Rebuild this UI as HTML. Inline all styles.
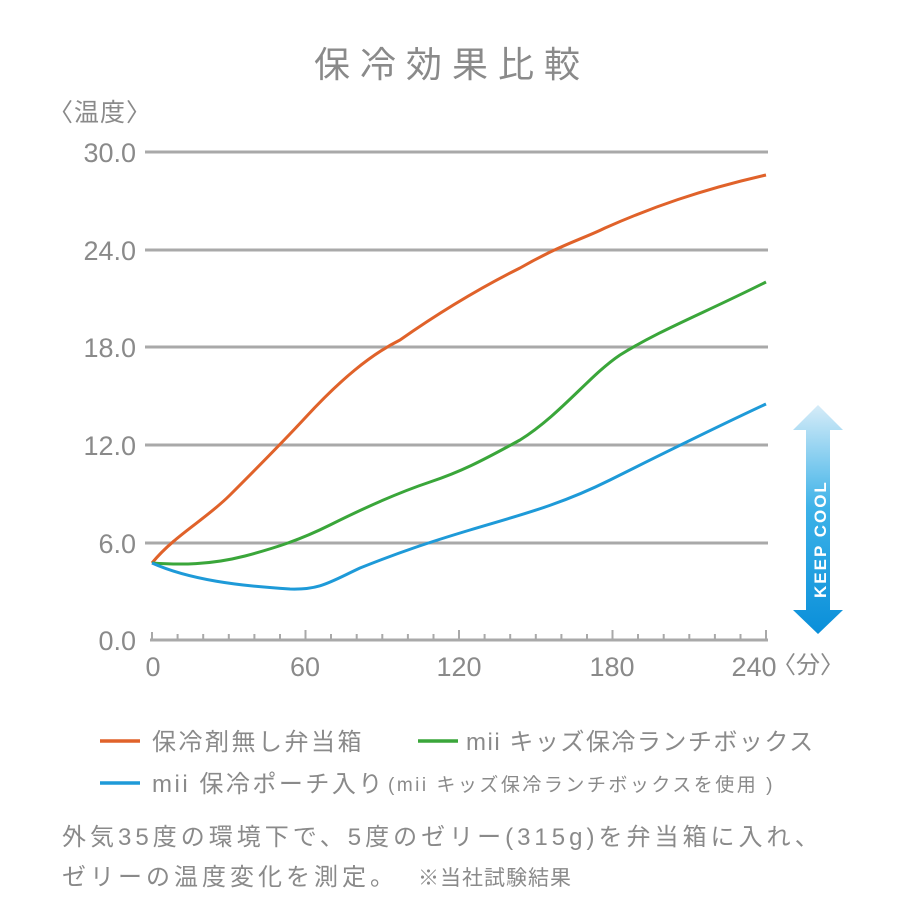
<!DOCTYPE html>
<html><head><meta charset="utf-8"><style>
html,body{margin:0;padding:0;background:#fff}
svg text{font-family:"Liberation Sans","Noto Sans CJK JP",sans-serif;fill:#8a8a8a}
</style></head><body>
<svg width="900" height="900" viewBox="0 0 900 900" xmlns="http://www.w3.org/2000/svg">
<defs>
<linearGradient id="g" x1="0" y1="0" x2="0" y2="1">
<stop offset="0" stop-color="#d6ecf8"/><stop offset="0.45" stop-color="#3db2e8"/><stop offset="1" stop-color="#0a8fd9"/>
</linearGradient>
</defs>
<text x="452" y="77" font-size="36" text-anchor="middle" letter-spacing="10">保冷効果比較</text>
<text x="48" y="121" font-size="25" letter-spacing="1">〈温度〉</text>
<g stroke="#a9a9a9" stroke-width="3">
<line x1="145" y1="152" x2="768" y2="152"/>
<line x1="145" y1="250" x2="768" y2="250"/>
<line x1="145" y1="347" x2="768" y2="347"/>
<line x1="145" y1="445" x2="768" y2="445"/>
<line x1="145" y1="543" x2="768" y2="543"/>
<line x1="150" y1="640" x2="768" y2="640"/>
</g>
<g stroke="#a9a9a9" stroke-width="2">
<path d="M152 640v-8M177.6 640v-6M203.2 640v-6M228.8 640v-6M254.4 640v-6M280 640v-6M305.5 640v-10M331 640v-6M356.7 640v-6M382.3 640v-6M407.9 640v-6M433.5 640v-6M459 640v-10M484.6 640v-6M510.2 640v-6M535.8 640v-6M561.4 640v-6M587 640v-6M612.5 640v-10M638 640v-6M663.7 640v-6M689.3 640v-6M714.9 640v-6M740.5 640v-6M766 640v-10"/>
</g>
<g font-size="27" text-anchor="end">
<text x="136" y="162">30.0</text><text x="136" y="260">24.0</text><text x="136" y="357">18.0</text>
<text x="136" y="455">12.0</text><text x="136" y="553">6.0</text><text x="136" y="650">0.0</text>
</g>
<g font-size="27" text-anchor="middle">
<text x="153" y="676">0</text><text x="305" y="676">60</text><text x="459" y="676">120</text><text x="612" y="676">180</text><text x="754" y="676">240</text>
</g>
<text x="772" y="673" font-size="24">〈分〉</text>
<path d="M152 563 C175 535,205 520,230 495 C260 465,280 445,305 418 C340 380,370 355,400 340 C450 305,490 283,520 268 C560 245,585 238,605 228 C650 208,700 190,766 175" fill="none" stroke="#e0622a" stroke-width="3"/>
<path d="M152 563 C180 565,210 565,245 556 C275 548,300 540,330 525 C370 505,400 492,430 482 C460 472,480 462,520 440 C560 415,590 375,620 355 C660 330,700 315,766 282" fill="none" stroke="#3aa63a" stroke-width="3"/>
<path d="M152 563 C190 580,240 586,290 589 C320 590,330 582,360 568 C400 552,430 542,470 530 C520 515,560 505,610 480 C660 455,710 430,766 404" fill="none" stroke="#1e9ad8" stroke-width="3"/>
<path d="M818 405 L843 430 L830 430 L830 610 L843 610 L818 634 L793 610 L806 610 L806 430 L793 430 Z" fill="url(#g)"/>
<text transform="translate(826,598) rotate(-90)" font-size="17" font-weight="bold" letter-spacing="2" style="fill:#fff">KEEP COOL</text>
<line x1="100" y1="741" x2="140" y2="741" stroke="#e0622a" stroke-width="3.5"/>
<text x="152" y="750" font-size="24" letter-spacing="2.5">保冷剤無し弁当箱</text>
<line x1="418" y1="741" x2="458" y2="741" stroke="#3aa63a" stroke-width="3.5"/>
<text x="466" y="750" font-size="24" letter-spacing="1.5">mii キッズ保冷ランチボックス</text>
<line x1="100" y1="783" x2="140" y2="783" stroke="#1e9ad8" stroke-width="3.5"/>
<text x="152" y="792" font-size="24" letter-spacing="2.5">mii 保冷ポーチ入り</text>
<text x="388" y="791" font-size="19" letter-spacing="2.5">(mii キッズ保冷ランチボックスを使用 )</text>
<text x="62" y="845" font-size="24" letter-spacing="4">外気35度の環境下で、5度のゼリー(315g)を弁当箱に入れ、</text>
<text x="62" y="885" font-size="24" letter-spacing="4">ゼリーの温度変化を測定。</text>
<text x="418" y="885" font-size="21" letter-spacing="1">※当社試験結果</text>
</svg>
</body></html>
